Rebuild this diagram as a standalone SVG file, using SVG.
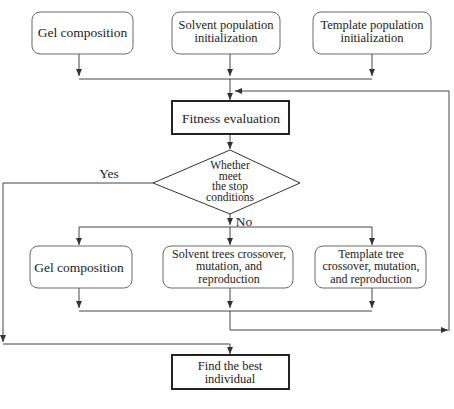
<svg xmlns="http://www.w3.org/2000/svg" width="454" height="409" viewBox="0 0 454 409">
<style>
.r{fill:#fff;stroke:#6a6a6a;stroke-width:1}
.b{fill:#fff;stroke:#222;stroke-width:2}
.d{fill:#fff;stroke:#333;stroke-width:1}
text{font-family:"Liberation Serif","Times New Roman",serif;font-size:13.5px;fill:#222;text-anchor:middle}
.s{font-size:12.5px}
.u{font-size:12px}
.t{font-size:11.5px}
.l{fill:none;stroke:#444;stroke-width:1}
</style>
<defs>
<marker id="a" markerWidth="8" markerHeight="6" refX="7" refY="3" orient="auto" markerUnits="userSpaceOnUse">
<path d="M0,0 L7,3 L0,6 Z" fill="#333"/>
</marker>
</defs>
<g id="connectors" class="l">
<path d="M79,54 V76" marker-end="url(#a)"/>
<path d="M230,54 V76" marker-end="url(#a)"/>
<path d="M372,54 V76" marker-end="url(#a)"/>
<path d="M79,79 H372"/>
<path d="M230,79 V100" marker-end="url(#a)"/>
<path d="M230,134 V149" marker-end="url(#a)"/>
<path d="M153,183 H3 V342" marker-end="url(#a)"/>
<path d="M3,344 H230 V354" marker-end="url(#a)"/>
<path d="M230,214 V225" marker-end="url(#a)"/>
<path d="M79,227 H372"/>
<path d="M79,227 V245" marker-end="url(#a)"/>
<path d="M230,227 V245" marker-end="url(#a)"/>
<path d="M372,227 V245" marker-end="url(#a)"/>
<path d="M79,288 V308" marker-end="url(#a)"/>
<path d="M230,288 V308" marker-end="url(#a)"/>
<path d="M372,288 V308" marker-end="url(#a)"/>
<path d="M79,311 H372"/>
<path d="M230,311 V330 H448" marker-end="url(#a)"/>
<path d="M449,331 V91 H235" marker-end="url(#a)"/>
</g>
<g id="n1"><rect class="r" x="32" y="12" width="101" height="42" rx="8"/><text x="82.5" y="37">Gel composition</text></g>
<g id="n2"><rect class="r" x="172" y="12" width="108" height="42" rx="8"/><text class="s" x="226" y="29">Solvent population</text><text class="s" x="226" y="42">initialization</text></g>
<g id="n3"><rect class="r" x="313" y="12" width="118" height="42" rx="8"/><text class="s" x="372" y="29">Template population</text><text class="s" x="372" y="42">initialization</text></g>
<g id="n4"><rect class="b" x="172" y="101" width="117" height="33"/><text x="231" y="123">Fitness evaluation</text></g>
<g id="n5"><polygon class="d" points="230,150 300,183 230,214 153,183"/>
<text class="t" x="230" y="169">Whether</text>
<text class="t" x="230" y="179.5">meet</text>
<text class="t" x="230" y="190">the stop</text>
<text class="t" x="230" y="200.5">conditions</text></g>
<text x="109" y="178">Yes</text>
<text x="244" y="226">No</text>
<g id="n6"><rect class="r" x="30" y="246" width="102" height="42" rx="8"/><text x="79" y="272">Gel composition</text></g>
<g id="n7"><rect class="r" x="163" y="246" width="130" height="42" rx="8"/><text class="u" x="229" y="257.5">Solvent trees crossover,</text><text class="u" x="229" y="270">mutation, and</text><text class="u" x="229" y="282.5">reproduction</text></g>
<g id="n8"><rect class="r" x="315" y="246" width="111" height="42" rx="8"/><text class="u" x="371" y="257.5">Template tree</text><text class="u" x="371" y="270">crossover, mutation,</text><text class="u" x="371" y="282.5">and reproduction</text></g>
<g id="n9"><rect class="b" x="172" y="355" width="117" height="34"/><text class="s" x="230" y="370">Find the best</text><text class="s" x="230" y="383">individual</text></g>
</svg>
